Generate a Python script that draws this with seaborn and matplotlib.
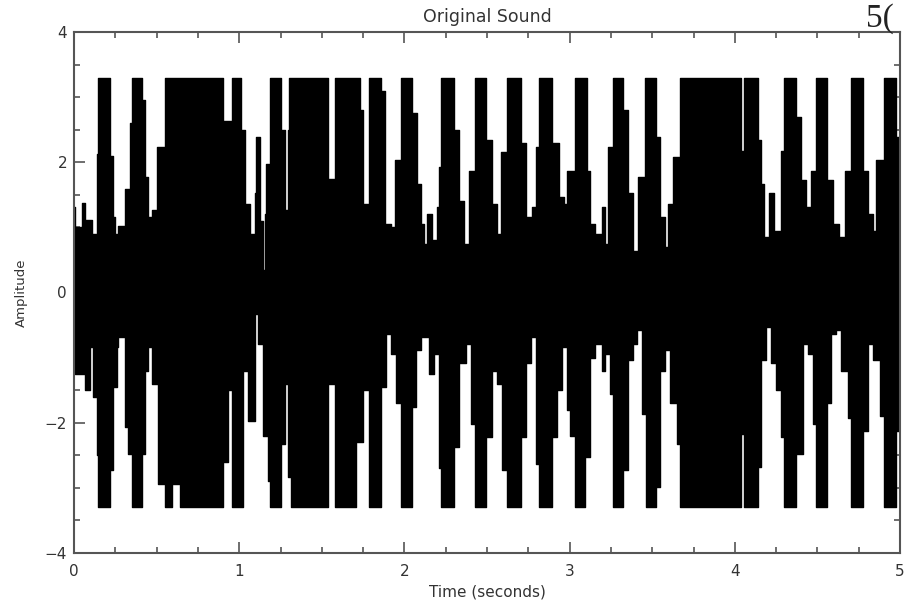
import numpy as np
import seaborn as sns
import matplotlib.pyplot as plt
from matplotlib.ticker import MultipleLocator

upper_t = [0.000, 0.006, 0.046, 0.067, 0.107, 0.137, 0.147, 0.218, 0.238, 0.248,
           0.268, 0.309, 0.339, 0.349, 0.410, 0.430, 0.450, 0.470, 0.500, 0.551,
           0.904, 0.954, 1.013, 1.033, 1.063, 1.093, 1.104, 1.124, 1.144, 1.154,
           1.164, 1.184, 1.251, 1.275, 1.295, 1.299, 1.538, 1.578, 1.729, 1.749,
           1.783, 1.860, 1.880, 1.921, 1.941, 1.981, 2.048, 2.078, 2.098, 2.119,
           2.139, 2.169, 2.199, 2.209, 2.223, 2.300, 2.330, 2.361, 2.391, 2.427,
           2.492, 2.532, 2.562, 2.583, 2.619, 2.703, 2.734, 2.774, 2.794, 2.815,
           2.895, 2.935, 2.966, 2.986, 3.033, 3.103, 3.123, 3.153, 3.194, 3.214,
           3.235, 3.261, 3.325, 3.356, 3.386, 3.416, 3.456, 3.523, 3.547, 3.577,
           3.598, 3.628, 3.668, 4.038, 4.058, 4.138, 4.159, 4.179, 4.209, 4.240,
           4.280, 4.300, 4.371, 4.401, 4.431, 4.462, 4.492, 4.557, 4.593, 4.633,
           4.664, 4.704, 4.775, 4.805, 4.836, 4.856, 4.900, 4.977, 4.997, 5.000]
upper_a = [1.31, 1.00, 1.37, 1.11, 0.90, 2.13, 3.30, 2.10, 1.16, 0.90,
           1.02, 1.59, 2.60, 3.30, 2.95, 1.77, 1.16, 1.26, 2.23, 3.30,
           2.64, 3.30, 2.49, 1.36, 0.90, 1.52, 2.39, 1.10, 0.34, 1.20,
           1.98, 3.30, 2.49, 1.26, 2.50, 3.30, 1.75, 3.30, 2.80, 1.36,
           3.30, 3.10, 1.05, 1.00, 2.03, 3.30, 2.75, 1.67, 1.05, 0.75,
           1.21, 0.80, 1.31, 1.93, 3.30, 2.49, 1.41, 0.75, 1.87, 3.30,
           2.34, 1.36, 0.90, 2.15, 3.30, 2.29, 1.16, 1.31, 2.23, 3.30,
           2.29, 1.46, 1.36, 1.87, 3.30, 1.87, 1.05, 0.90, 1.31, 0.75,
           2.23, 3.30, 2.80, 1.52, 0.64, 1.77, 3.30, 2.39, 1.16, 0.70,
           1.36, 2.08, 3.30, 2.18, 3.30, 2.34, 1.67, 0.85, 1.52, 0.95,
           2.18, 3.30, 2.70, 1.72, 1.31, 1.87, 3.30, 1.72, 1.05, 0.85,
           1.87, 3.30, 1.87, 1.21, 0.95, 2.03, 3.30, 2.39, 1.30, 1.30]

# lower envelope
lower_t = [0.000, 0.006, 0.067, 0.097, 0.117, 0.137, 0.147, 0.218, 0.238, 0.258,
           0.268, 0.309, 0.329, 0.349, 0.410, 0.430, 0.450, 0.470, 0.510, 0.551,
           0.591, 0.642, 0.904, 0.934, 0.954, 1.023, 1.053, 1.093, 1.114, 1.144,
           1.174, 1.184, 1.251, 1.275, 1.295, 1.315, 1.538, 1.578, 1.709, 1.749,
           1.783, 1.860, 1.890, 1.921, 1.951, 1.981, 2.048, 2.068, 2.098, 2.149,
           2.179, 2.209, 2.223, 2.300, 2.330, 2.371, 2.401, 2.427, 2.492, 2.532,
           2.562, 2.593, 2.619, 2.703, 2.734, 2.764, 2.794, 2.815, 2.895, 2.925,
           2.956, 2.986, 3.002, 3.033, 3.093, 3.123, 3.153, 3.194, 3.214, 3.245,
           3.265, 3.325, 3.356, 3.386, 3.406, 3.436, 3.462, 3.523, 3.547, 3.577,
           3.608, 3.648, 3.668, 4.040, 4.058, 4.138, 4.159, 4.189, 4.219, 4.250,
           4.280, 4.300, 4.371, 4.411, 4.441, 4.472, 4.492, 4.557, 4.583, 4.613,
           4.643, 4.684, 4.704, 4.775, 4.805, 4.836, 4.876, 4.900, 4.977, 4.997,
           5.000]
lower_a = [-0.89, -1.25, -1.50, -0.84, -1.61, -2.50, -3.30, -2.73, -1.45, -0.84,
           -0.68, -2.07, -2.48, -3.30, -2.48, -1.20, -0.84, -1.40, -2.94, -3.30,
           -2.94, -3.30, -2.60, -1.50, -3.30, -1.20, -1.97, -0.33, -0.79, -2.20,
           -2.90, -3.30, -2.32, -1.40, -2.84, -3.30, -1.40, -3.30, -2.30, -1.50,
           -3.30, -1.45, -0.63, -0.94, -1.70, -3.30, -1.76, -0.89, -0.68, -1.25,
           -0.94, -2.70, -3.30, -2.38, -1.09, -0.79, -2.02, -3.30, -2.22, -1.20,
           -1.40, -2.73, -3.30, -2.22, -1.09, -0.68, -2.63, -3.30, -2.22, -1.50,
           -0.84, -1.80, -2.20, -3.30, -2.53, -1.00, -0.79, -1.20, -0.94, -1.56,
           -3.30, -2.73, -1.04, -0.79, -0.58, -1.86, -3.30, -2.99, -1.20, -0.89,
           -1.70, -2.32, -3.30, -2.17, -3.30, -2.68, -1.04, -0.53, -1.09, -1.50,
           -2.22, -3.30, -2.48, -0.79, -0.94, -2.02, -3.30, -1.70, -0.63, -0.58,
           -1.20, -1.93, -3.30, -2.12, -0.79, -1.04, -1.90, -3.30, -2.12, -1.20,
           -1.20]

text_col = "#333333"


def make_plot():
    sns.set_style("ticks")
    plt.rcParams["font.family"] = ["DejaVu Sans"]

    fig = plt.figure(figsize=(9.06, 6.01), dpi=100)
    ax = fig.add_axes([0.0817, 0.0799, 0.9117, 0.8669])

    ax.fill_between(upper_t, 0, upper_a, step="post", color="black", lw=0)
    ax.fill_between(lower_t, lower_a, 0, step="post", color="black", lw=0)
    sns.lineplot(x=upper_t, y=upper_a, drawstyle="steps-post", color="black",
                 lw=1.0, estimator=None, sort=False, ax=ax)
    sns.lineplot(x=lower_t, y=lower_a, drawstyle="steps-post", color="black",
                 lw=1.0, estimator=None, sort=False, ax=ax)

    ax.set_xlim(0, 5)
    ax.set_ylim(-4, 4)
    ax.xaxis.set_major_locator(MultipleLocator(1))
    ax.xaxis.set_minor_locator(MultipleLocator(0.25))
    ax.yaxis.set_major_locator(MultipleLocator(2))
    ax.yaxis.set_minor_locator(MultipleLocator(0.5))
    ax.tick_params(which="both", direction="in", top=True, right=True,
                   color="#555555", width=1.2, labelcolor=text_col)
    ax.tick_params(which="major", length=8, labelsize=11)
    ax.tick_params(axis="x", which="major", pad=8)
    ax.tick_params(axis="y", which="major", pad=5)
    ax.tick_params(which="minor", length=4)
    for sp in ax.spines.values():
        sp.set_color("#555555")
        sp.set_linewidth(1.5)

    ax.set_title("Original Sound", fontsize=12.5, color=text_col, pad=7)
    ax.set_xlabel("Time (seconds)", fontsize=11, color=text_col, labelpad=4)
    ax.set_ylabel("Amplitude", fontsize=9.5, color=text_col, labelpad=12)

    # page text showing in the top right corner
    fig.text(866 / 906, 1 - 27 / 601, "5(", fontsize=24, va="baseline",
             family=["Liberation Serif", "DejaVu Serif"], color="#222222")

    fig.savefig("out.png", dpi=100)


if __name__ == "__main__":
    make_plot()
